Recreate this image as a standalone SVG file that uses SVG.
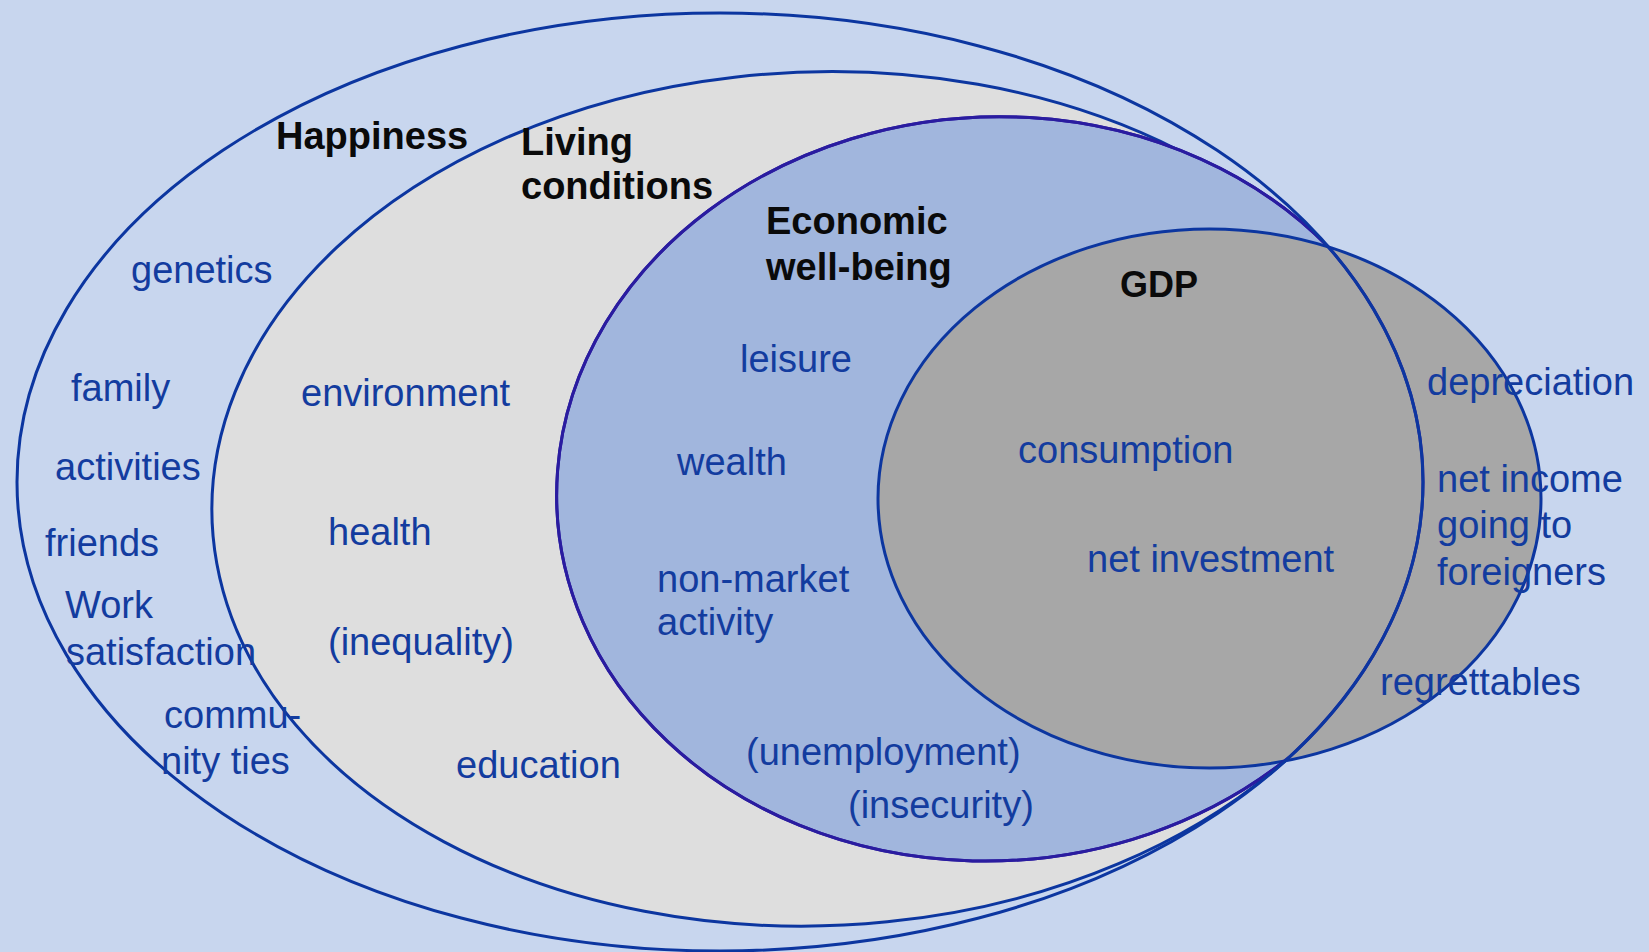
<svg xmlns="http://www.w3.org/2000/svg" xmlns:xlink="http://www.w3.org/1999/xlink" width="1649" height="952" viewBox="0 0 1649 952">
<style>
.bg{fill:#C8D6EE}
.ln{fill:none;stroke:#0C36A0;stroke-width:3}
.lne{fill:none;stroke:#2A1CA0;stroke-width:3}
.f-liv{fill:#DEDEDE}
.f-eco{fill:#A1B6DD}
.f-gdp{fill:#A7A7A7}
.t{font-family:"Liberation Sans",Arial,sans-serif;font-size:38px;fill:#133C9F}
.h{font-family:"Liberation Sans",Arial,sans-serif;font-size:38px;font-weight:bold;fill:#0A0A0A}
</style>
<defs>
<ellipse id="p-outer" cx="720" cy="482" rx="703" ry="469"/>
<path id="p-living" d="M1180 151 A436 372 -3 0 1 1328.4 247 A703 469 0 0 1 1289.5 757 A605 427 -2 1 1 1180 151 Z"/>
<path id="p-econ" d="M1328.4 247 A703 469 0 0 1 1289.5 757 A436 372 -3 1 1 1328.4 247 Z"/>
<ellipse id="p-gdp" cx="1209.5" cy="498.5" rx="331.5" ry="269.5"/>
</defs>
<rect class="bg" x="0" y="0" width="1649" height="952"/>
<g id="living-conditions">
<use xlink:href="#p-living" class="f-liv"/>
<use xlink:href="#p-living" class="ln"/>
<text class="h" x="521" y="155">Living</text>
<text class="h" x="521" y="199">conditions</text>
<text class="t" x="301" y="406">environment</text>
<text class="t" x="328" y="545">health</text>
<text class="t" x="328" y="655">(inequality)</text>
<text class="t" x="456" y="778">education</text>
</g>
<g id="economic-well-being">
<use xlink:href="#p-econ" class="f-eco"/>
<use xlink:href="#p-econ" class="lne"/>
<text class="h" x="766" y="234">Economic</text>
<text class="h" x="766" y="280">well-being</text>
<text class="t" x="740" y="372">leisure</text>
<text class="t" x="677" y="475">wealth</text>
<text class="t" x="657" y="592">non-market</text>
<text class="t" x="657" y="635">activity</text>
<text class="t" x="746" y="765">(unemployment)</text>
<text class="t" x="848" y="818">(insecurity)</text>
</g>
<g id="gdp">
<use xlink:href="#p-gdp" class="f-gdp"/>
<use xlink:href="#p-gdp" class="ln"/>
<text class="h" x="1120" y="297" style="font-size:36px">GDP</text>
<text class="t" x="1018" y="463">consumption</text>
<text class="t" x="1087" y="572">net investment</text>
<text class="t" x="1427" y="395">depreciation</text>
<text class="t" x="1437" y="492">net income</text>
<text class="t" x="1437" y="538">going to</text>
<text class="t" x="1437" y="585">foreigners</text>
<text class="t" x="1380" y="695">regrettables</text>
</g>
<g id="outlines">
<use xlink:href="#p-econ" class="lne"/>
</g>
<g id="happiness">
<use xlink:href="#p-outer" class="ln"/>
<text class="h" x="276" y="149">Happiness</text>
<text class="t" x="131" y="283">genetics</text>
<text class="t" x="71" y="401">family</text>
<text class="t" x="55" y="480">activities</text>
<text class="t" x="45" y="556">friends</text>
<text class="t" x="65" y="618">Work</text>
<text class="t" x="66" y="665" textLength="190" lengthAdjust="spacingAndGlyphs">satisfaction</text>
<text class="t" x="164" y="728">commu-</text>
<text class="t" x="161" y="774">nity ties</text>
</g>
</svg>
